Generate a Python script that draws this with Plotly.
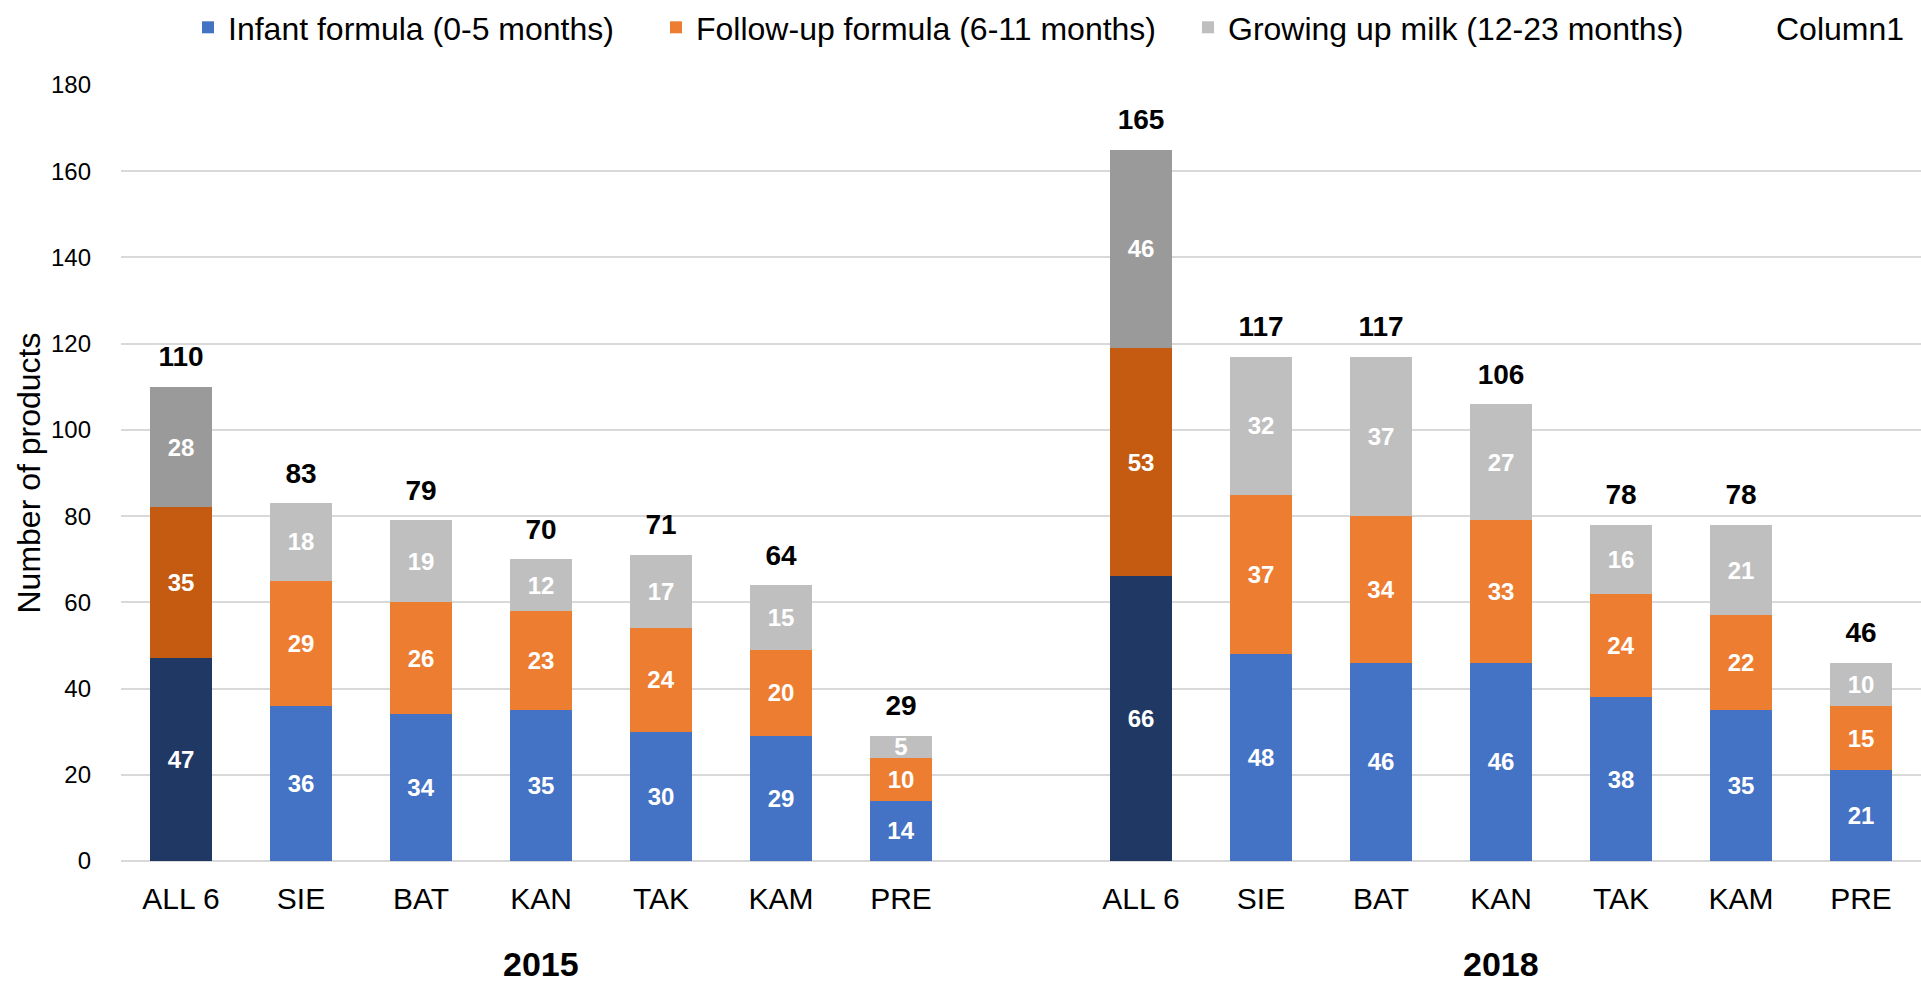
import plotly.graph_objects as go

# ---- data ----
years = ["2015", "2018"]
sites = ["ALL 6", "SIE", "BAT", "KAN", "TAK", "KAM", "PRE"]

infant_2015 = [47, 36, 34, 35, 30, 29, 14]
followup_2015 = [35, 29, 26, 23, 24, 20, 10]
growing_2015 = [28, 18, 19, 12, 17, 15, 5]
total_2015 = [110, 83, 79, 70, 71, 64, 29]

infant_2018 = [66, 48, 46, 46, 38, 35, 21]
followup_2018 = [53, 37, 34, 33, 24, 22, 15]
growing_2018 = [46, 32, 37, 27, 16, 21, 10]
total_2018 = [165, 117, 117, 106, 78, 78, 46]

series_names = ["Infant formula (0-5 months)",
                "Follow-up formula (6-11 months)",
                "Growing up milk (12-23 months)"]
totals_name = "Column1"

# ---- styling ----
base_colors = ["#4472C4", "#ED7D31", "#BFBFBF"]
dark_colors = ["#203864", "#C55A11", "#9A9A9A"]
legend_widths = [423, 487, 503]
FONT = "Liberation Sans"

# positions: two groups separated by an empty slot
n = len(sites)
xpos = list(range(n)) + [n + 1 + i for i in range(n)]
labels = sites + sites
series_vals = [infant_2015 + infant_2018,
               followup_2015 + followup_2018,
               growing_2015 + growing_2018]
totals = total_2015 + total_2018
is_all = [s == "ALL 6" for s in labels]

# order points so that the legend swatch takes the regular colour
order = [i for i in range(len(xpos)) if not is_all[i]] + [i for i in range(len(xpos)) if is_all[i]]

fig = go.Figure()
for k, name in enumerate(series_names):
    vals = series_vals[k]
    fig.add_trace(go.Bar(
        name=name,
        x=[xpos[i] for i in order],
        y=[vals[i] for i in order],
        text=[str(vals[i]) for i in order],
        marker=dict(color=[dark_colors[k] if is_all[i] else base_colors[k] for i in order],
                    line=dict(width=0)),
        textposition="inside",
        insidetextanchor="middle",
        textangle=0,
        textfont=dict(family=FONT, size=24, color="white", weight="bold"),
        legendwidth=legend_widths[k],
        hoverinfo="skip",
    ))

# legend entry for Column1 (no visible swatch)
fig.add_trace(go.Bar(
    name=totals_name,
    x=xpos, y=[0] * len(xpos),
    marker=dict(color="rgba(0,0,0,0)", line=dict(width=0)),
    hoverinfo="skip",
    legendwidth=130,
))

# total labels above bars
fig.add_trace(go.Scatter(
    x=xpos, y=totals, mode="markers+text",
    marker=dict(size=20, color="rgba(0,0,0,0)"),
    text=[str(t) for t in totals],
    textposition="top center",
    textfont=dict(family=FONT, size=28, color="black", weight="bold"),
    showlegend=False, cliponaxis=False, hoverinfo="skip",
))

# year labels under each group
group_centers = [sum(xpos[:n]) / n, sum(xpos[n:]) / n]
for yr, cx in zip(years, group_centers):
    fig.add_annotation(x=cx, y=-0.133, xref="x", yref="paper",
                       text=yr, showarrow=False, yanchor="middle",
                       font=dict(family=FONT, size=34, color="black", weight="bold"))

fig.update_layout(
    width=1921, height=985,
    barmode="stack", bargap=0.48,
    plot_bgcolor="white", paper_bgcolor="white",
    margin=dict(l=121, r=0, t=85, b=124),
    font=dict(family=FONT, color="black"),
    uniformtext=dict(mode="show", minsize=24),
    legend=dict(orientation="h", xref="container", yref="container",
                x=188 / 1921, xanchor="left", y=1.0, yanchor="top",
                font=dict(family=FONT, size=32, color="black"),
                traceorder="normal", itemclick=False),
    showlegend=True,
)
fig.update_xaxes(range=[-0.5, 2 * n + 0.5], tickmode="array", tickvals=xpos, ticktext=labels,
                 tickfont=dict(family=FONT, size=30, color="black"),
                 showgrid=False, zeroline=False, showline=False, ticks="",
                 ticklabelstandoff=17, fixedrange=True)
fig.update_yaxes(range=[0, 180], dtick=20, tick0=0,
                 showgrid=True, gridcolor="#D9D9D9", gridwidth=2,
                 zeroline=True, zerolinecolor="#D9D9D9", zerolinewidth=2,
                 showline=False, ticks="", ticklabelstandoff=29,
                 tickfont=dict(family=FONT, size=24, color="black"),
                 title=dict(text="Number of products", standoff=0,
                            font=dict(family=FONT, size=32, color="black")),
                 fixedrange=True)

fig.write_html("out.html", config={"displayModeBar": False},
               post_script="document.body.style.margin='0';document.documentElement.style.margin='0';")
